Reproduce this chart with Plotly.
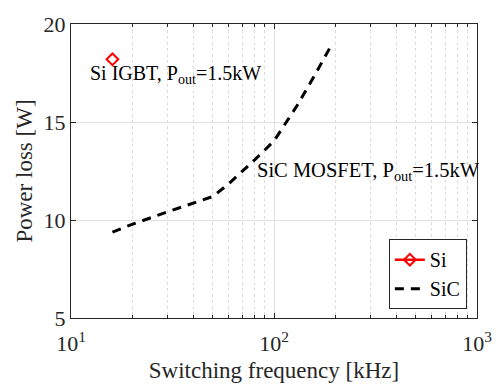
import numpy as np
import plotly.graph_objects as go

# Switching frequency [kHz] and power loss [W]
si_freq = [16]
si_loss = [18.2]

sic_freq = [16, 20, 30, 40, 50, 60, 80, 100, 130, 160, 190]
sic_loss = [9.38, 9.78, 10.42, 10.86, 11.2, 11.86, 13.05, 14.03, 15.84, 17.45, 18.85]

x_major = [10, 100, 1000]
x_major_text = ["10<sup>1</sup>", "10<sup>2</sup>", "10<sup>3</sup>"]
x_minor = [m * d for d in (10, 100) for m in range(2, 10)]
y_ticks = [5, 10, 15, 20]

FONT = "Liberation Serif, Times New Roman, serif"
INK = "#262626"

fig = go.Figure()
fig.add_trace(go.Scatter(
    x=si_freq, y=si_loss, name="Si", mode="lines+markers",
    line=dict(color="red", width=2.5),
    marker=dict(symbol="diamond-open", size=9, color="red", line=dict(width=2)),
))
fig.add_trace(go.Scatter(
    x=sic_freq, y=sic_loss, name="SiC", mode="lines",
    line=dict(color="black", width=3, dash="9px,7px"),
))

fig.add_annotation(x=np.log10(12.1), y=17.4, xref="x", yref="y",
                   text="Si IGBT, P<sub>out</sub>=1.5kW", showarrow=False,
                   xanchor="left", yanchor="middle",
                   font=dict(family=FONT, size=20, color="black"))
fig.add_annotation(x=np.log10(81), y=12.5, xref="x", yref="y",
                   text="SiC MOSFET, P<sub>out</sub>=1.5kW", showarrow=False,
                   xanchor="left", yanchor="middle",
                   font=dict(family=FONT, size=20.5, color="black"))

fig.update_layout(
    width=504, height=391,
    margin=dict(l=71, r=18, t=15, b=71),
    paper_bgcolor="white", plot_bgcolor="white",
    font=dict(family=FONT, size=21, color=INK),
    showlegend=True,
    legend=dict(x=0.975, y=0.03, xanchor="right", yanchor="bottom",
                bgcolor="white", bordercolor=INK, borderwidth=1,
                font=dict(family=FONT, size=20, color="black"),
                tracegroupgap=0, itemwidth=30),
)
fig.update_xaxes(
    type="log", range=[1, 3],
    tickmode="array", tickvals=x_major, ticktext=x_major_text,
    tickfont=dict(family=FONT, size=22, color=INK), ticklabelstandoff=6,
    ticks="inside", ticklen=5, tickcolor=INK,
    showline=True, linecolor=INK, linewidth=1, mirror="ticks",
    showgrid=True, gridcolor="#e0e0e0", gridwidth=1,
    minor=dict(tickmode="array", tickvals=x_minor, ticks="inside", ticklen=3,
               tickcolor=INK, showgrid=True, gridcolor="#dcdcdc",
               griddash="dot", gridwidth=1),
    zeroline=False,
    title=dict(text="Switching frequency [kHz]", standoff=6,
               font=dict(family=FONT, size=23, color=INK)),
)
fig.update_yaxes(
    range=[5, 20], tickmode="array", tickvals=y_ticks,
    tickfont=dict(family=FONT, size=22, color=INK),
    ticks="inside", ticklen=5, tickcolor=INK,
    showline=True, linecolor=INK, linewidth=1, mirror="ticks",
    showgrid=True, gridcolor="#e0e0e0", gridwidth=1,
    zeroline=False,
    title=dict(text="Power loss [W]", standoff=4,
               font=dict(family=FONT, size=23, color=INK)),
)

fig.write_html("out.html")
